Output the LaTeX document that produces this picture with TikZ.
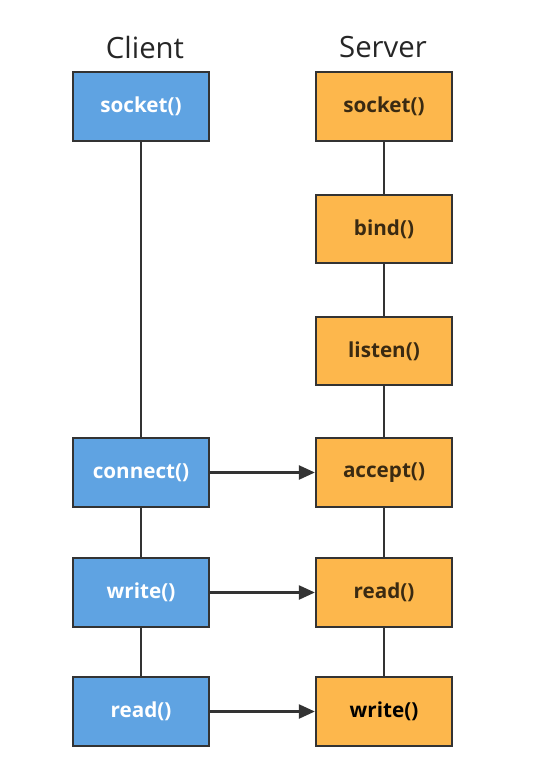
\documentclass[tikz,border=0pt]{standalone}
\usepackage{fontspec}
\setmainfont{Open Sans}
\usepackage{xcolor}
\definecolor{clientblue}{HTML}{5FA3E2}
\definecolor{serverorange}{HTML}{FDB74C}
\definecolor{edgegray}{HTML}{333333}
\definecolor{servertext}{HTML}{3A2A12}
\usetikzlibrary{arrows.meta, positioning}

\begin{document}
\begin{tikzpicture}[
  x=0.75pt, y=-0.75pt,
  call/.style={draw=edgegray, line width=1.7pt, minimum width=102pt, minimum height=51.5pt, font=\fontsize{15.5}{18}\selectfont\bfseries, inner sep=0pt},
  client/.style={call, fill=clientblue, text=white},
  server/.style={call, fill=serverorange, text=servertext},
  head/.style={font=\fontsize{22}{26}\selectfont, text=black!85},
  link/.style={draw=edgegray, line width=1.7pt},
  msg/.style={link, -{Triangle[length=12pt, width=10.5pt]}},
]
\useasboundingbox (0,0) rectangle (544,769);

\node[head] (chead) at (145,47) {Client};
\node[head] (shead) at (383,47) {Server};

% Client column
\node[client] (csocket) at (141,106.5) {socket()};
\node[client] (connect) at (141,472.5) {connect()};
\node[client] (cwrite) at (141,592.5) {write()};
\node[client] (cread) at (141,711.5) {read()};

% Server column
\node[server] (ssocket) at (384,106.5) {socket()};
\node[server] (bind) at (384,229) {bind()};
\node[server] (listen) at (384,351) {listen()};
\node[server] (accept) at (384,472.5) {accept()};
\node[server] (sread) at (384,592.5) {read()};
\node[server, text=black] (swrite) at (384,711.5) {write()};

% Vertical flow
\draw[link] (csocket) -- (connect);
\draw[link] (connect) -- (cwrite);
\draw[link] (cwrite) -- (cread);
\draw[link] (ssocket) -- (bind);
\draw[link] (bind) -- (listen);
\draw[link] (listen) -- (accept);
\draw[link] (accept) -- (sread);
\draw[link] (sread) -- (swrite);

% Messages
\draw[msg] (connect) -- (accept);
\draw[msg] (cwrite) -- (sread);
\draw[msg] (cread) -- (swrite);

\end{tikzpicture}
\end{document}
